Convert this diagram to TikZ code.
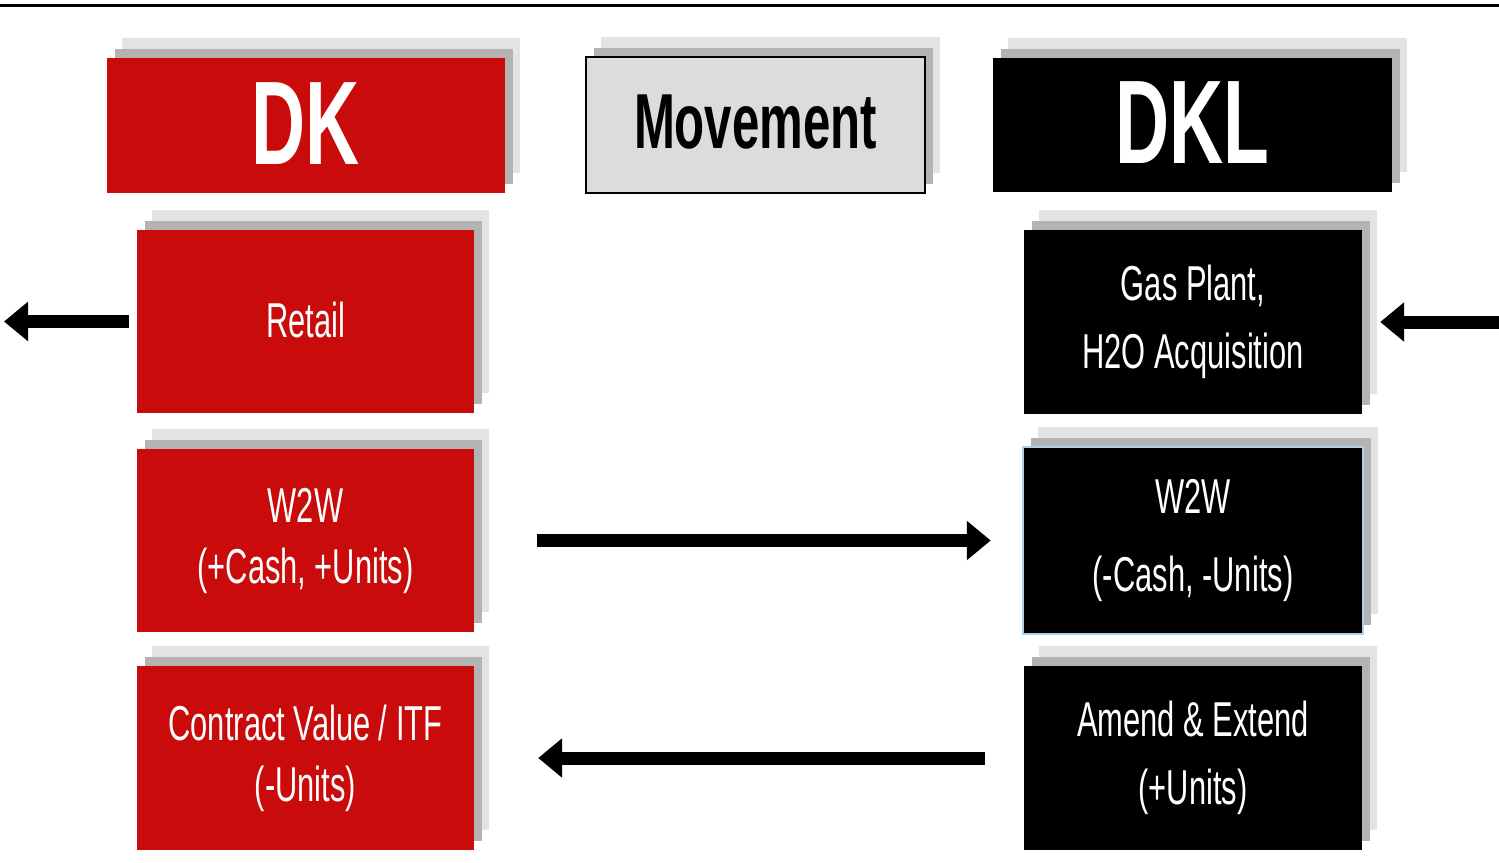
\documentclass[tikz,border=0pt]{standalone}
\usepackage{fontspec}
\setmainfont{Liberation Sans}[FakeStretch=0.63]
\usetikzlibrary{arrows.meta,shadows}
\definecolor{dkred}{HTML}{C90B0B}
\definecolor{shdark}{HTML}{B3B3B3}
\definecolor{shlight}{HTML}{E3E3E3}
\definecolor{mvgray}{HTML}{DCDCDC}
\definecolor{edgeblue}{HTML}{A9D0EE}
\begin{document}
\begin{tikzpicture}[x=1pt,y=-1pt,
  twoshadow/.style={
    general shadow={fill=shlight,draw=none,shadow xshift=15pt,shadow yshift=20pt},
    general shadow={fill=shdark,draw=none,shadow xshift=8pt,shadow yshift=9pt}},
  basebox/.style={rectangle,inner sep=0pt,align=center,twoshadow},
  redbox/.style={basebox,fill=dkred,text=white,minimum width=337pt,minimum height=183pt,
    font=\fontsize{49}{61}\selectfont},
  blackbox/.style={basebox,fill=black,text=white,minimum width=338pt,minimum height=184pt,
    font=\fontsize{49}{61}\selectfont},
  headbox/.style={basebox,font=\fontsize{119}{130}\bfseries\selectfont},
  thickarrow/.style={line width=13pt,-{Triangle[length=24pt,width=38pt]}}
]
\useasboundingbox (0,0) rectangle (1499,862);
\draw[line width=3pt] (0,5) -- (1499,5);

% headers
\node[headbox,fill=dkred,text=white,minimum width=398pt,minimum height=135pt] (dk) at (306,125.5) {\raisebox{4pt}{DK}};
\node[basebox,fill=mvgray,draw=black,line width=2.5pt,minimum width=339pt,minimum height=136pt,
  font=\fontsize{78}{90}\bfseries\selectfont] (mv) at (755.5,125) {\raisebox{7pt}{Movement}};
\node[headbox,fill=black,text=white,minimum width=399pt,minimum height=134pt] (dkl) at (1192.5,125) {\raisebox{4pt}{DKL}};

% left column
\node[redbox] (retail) at (305.5,321.5) {\raisebox{3pt}{Retail}};
\node[redbox] (w2wl) at (305.5,540.5) {W2W\\(+Cash, +Units)};
\node[redbox,minimum height=184pt] (contract) at (305.5,758) {Contract Value / ITF\\(-Units)};

% right column
\node[blackbox] (gas) at (1193,322) {Gas Plant,\\[7pt]H2O Acquisition};
\node[blackbox,draw=edgeblue,line width=2.5pt,minimum width=340pt,minimum height=187pt] (w2wr) at (1193,540.5) {W2W\\[17pt](-Cash, -Units)};
\node[blackbox] (amend) at (1193,758) {Amend \& Extend\\[7pt](+Units)};

% arrows
\coordinate (leftend) at (4,321.5);
\coordinate (rightstart) at (1499,322);
\draw[thickarrow] ([xshift=-8pt]retail.west) -- (leftend);
\draw[thickarrow] (rightstart) -- ([xshift=18pt]gas.east);
\draw[thickarrow] ([xshift=63pt]w2wl.east) -- ([xshift=-31pt]w2wr.west);
\draw[thickarrow] ([xshift=-39pt]amend.west) -- ([xshift=64pt]contract.east);
\end{tikzpicture}
\end{document}
